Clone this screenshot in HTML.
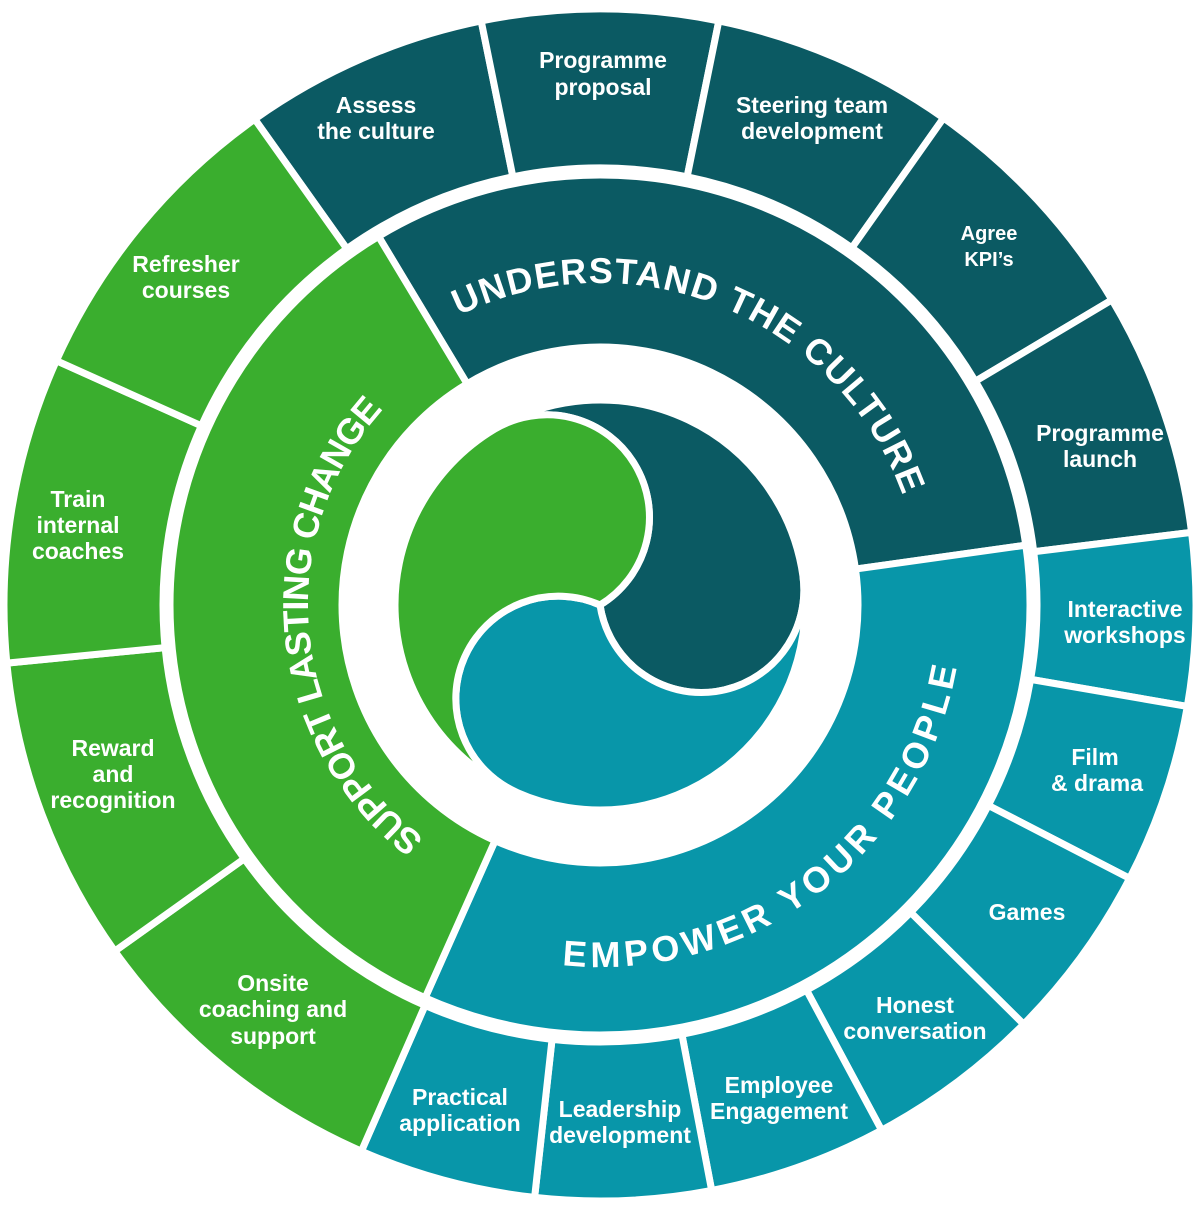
<!DOCTYPE html>
<html><head><meta charset="utf-8">
<style>
html,body{margin:0;padding:0;background:#fff;}
svg{display:block;}
text{font-family:"Liberation Sans",sans-serif;font-weight:bold;fill:#fff;}
.o{font-size:23px;text-anchor:middle;}
.b{font-size:36px;}
</style></head><body>
<svg id="s" width="1200" height="1205" viewBox="0 0 1200 1205" xmlns="http://www.w3.org/2000/svg">
<g id="shapes" stroke="#fff" stroke-width="7" stroke-linejoin="round"></g>
<defs id="defs"></defs>
<g id="labels">
<text class="o" x="376" y="113">Assess</text><text class="o" x="376" y="139">the culture</text>
<text class="o" x="603" y="68">Programme</text><text class="o" x="603" y="95">proposal</text>
<text class="o" x="812" y="113">Steering team</text><text class="o" x="812" y="139">development</text>
<text class="o" x="989" y="240" style="font-size:20px">Agree</text><text class="o" x="989" y="266" style="font-size:20px">KPI’s</text>
<text class="o" x="1100" y="441">Programme</text><text class="o" x="1100" y="467">launch</text>
<text class="o" x="1125" y="617">Interactive</text><text class="o" x="1125" y="643">workshops</text>
<text class="o" x="1095" y="765">Film</text><text class="o" x="1097" y="791">&amp; drama</text>
<text class="o" x="1027" y="920">Games</text>
<text class="o" x="915" y="1013">Honest</text><text class="o" x="915" y="1039">conversation</text>
<text class="o" x="779" y="1093">Employee</text><text class="o" x="779" y="1119">Engagement</text>
<text class="o" x="620" y="1117">Leadership</text><text class="o" x="620" y="1143">development</text>
<text class="o" x="460" y="1105">Practical</text><text class="o" x="460" y="1131">application</text>
<text class="o" x="273" y="991">Onsite</text><text class="o" x="273" y="1017">coaching and</text><text class="o" x="273" y="1044">support</text>
<text class="o" x="113" y="756">Reward</text><text class="o" x="113" y="782">and</text><text class="o" x="113" y="808">recognition</text>
<text class="o" x="78" y="507">Train</text><text class="o" x="78" y="533">internal</text><text class="o" x="78" y="559">coaches</text>
<text class="o" x="186" y="272">Refresher</text><text class="o" x="186" y="298">courses</text>
</g>
<g id="curved"></g>
</svg>
<script>
var cx=600,cy=605,NS="http://www.w3.org/2000/svg";
function P(r,a){a=a*Math.PI/180;return [(cx+r*Math.cos(a)).toFixed(2),(cy-r*Math.sin(a)).toFixed(2)];}
function sector(R,r,a1,a2){
 var L=(a1-a2)>180?1:0,p1=P(R,a1),p2=P(R,a2),p3=P(r,a2),p4=P(r,a1);
 return "M"+p1+" A"+R+" "+R+" 0 "+L+" 1 "+p2+" L"+p3+" A"+r+" "+r+" 0 "+L+" 0 "+p4+" Z";}
var DK="#0b5a63",TL="#0896a9",GR="#3aae2e";
var g=document.getElementById("shapes");
function add(d,c){var p=document.createElementNS(NS,"path");p.setAttribute("d",d);p.setAttribute("fill",c);g.appendChild(p);}
var RO=596,RI=437;
var segs=[[125.4,101.5,DK],[101.5,78.5,DK],[78.5,54.8,DK],[54.8,30.8,DK],[30.8,7,DK],
[7,-9.8,TL],[-9.8,-27.3,TL],[-27.3,-44.7,TL],[-44.7,-61.8,TL],[-61.8,-79.2,TL],[-79.2,-96.3,TL],[-96.3,-113.6,TL],
[-113.6,-144.5,GR],[-144.5,-174.4,GR],[185.6,155.8,GR],[155.8,125.4,GR]];
segs.forEach(function(s){add(sector(RO,RI,s[0],s[1]),s[2]);});
add(sector(430,258,121,8),DK);
add(sector(430,258,8,-114),TL);
add(sector(430,258,246,121),GR);
var R=205;
function lobe(t1,t2,c){var a=P(R,t1),b=P(R,t2),h=R/2;
 add("M"+cx+","+cy+" A"+h+" "+h+" 0 0 0 "+a+" A"+R+" "+R+" 0 0 1 "+b+" A"+h+" "+h+" 0 0 1 "+cx+","+cy+" Z",c);}
lobe(121,8,DK);lobe(368,246,TL);lobe(246,121,GR);
var defs=document.getElementById("defs"),cg=document.getElementById("curved");
function arcText(id,r,a1,a2,sweep,txt){
 var p1=P(r,a1),p2=P(r,a2),L=Math.abs(a1-a2)>180?1:0;
 var p=document.createElementNS(NS,"path");p.setAttribute("id",id);
 p.setAttribute("d","M"+p1+" A"+r+" "+r+" 0 "+L+" "+sweep+" "+p2);defs.appendChild(p);
 var len=r*Math.abs(a1-a2)*Math.PI/180;
 var t=document.createElementNS(NS,"text");t.setAttribute("class","b");
 var tp=document.createElementNS(NS,"textPath");tp.setAttribute("href","#"+id);
 tp.setAttributeNS("http://www.w3.org/1999/xlink","xlink:href","#"+id);
 tp.setAttribute("textLength",len.toFixed(1));tp.setAttribute("lengthAdjust","spacing");
 tp.textContent=txt;t.appendChild(tp);cg.appendChild(t);}
arcText("t1",322,116,20,1,"UNDERSTAND THE CULTURE");
arcText("t2",362,-96,-10,0,"EMPOWER YOUR PEOPLE");
arcText("t3",292,233,138,1,"SUPPORT LASTING CHANGE");
</script>
</body></html>
